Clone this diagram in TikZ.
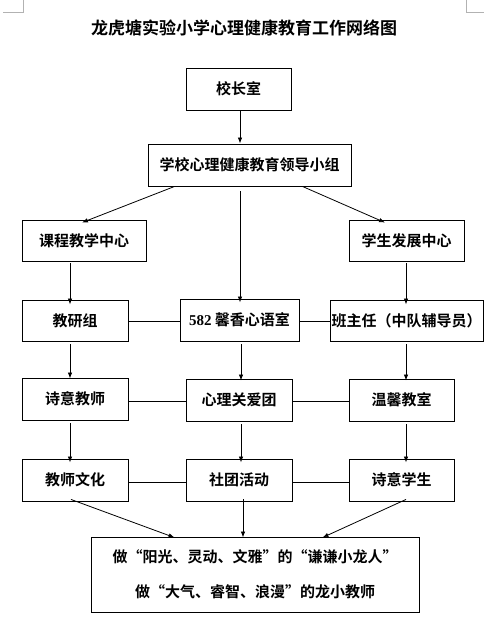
\documentclass[tikz,border=0pt]{standalone}
\usepackage{fontspec}
\newfontfamily\cjk{Noto Sans CJK SC}[BoldFont={* Bold}]
\newfontfamily\numfont{Liberation Serif}
\usetikzlibrary{arrows.meta,calc}
\begin{document}
\begin{tikzpicture}[x=1pt,y=-1pt,
  box/.style={draw,line width=0.9pt,rectangle,inner sep=0pt,font=\cjk\bfseries\fontsize{15}{18}\selectfont},
  arr/.style={line width=0.8pt,-{Latex[length=6pt,width=4.5pt]}},
  ln/.style={line width=0.8pt},
  cornermark/.style={draw=gray!60,line width=0.6pt}]
\useasboundingbox (0,0) rectangle (494,628);
\fill[white] (0,0) rectangle (494,628);
% corner marks
\draw[cornermark] (3,12) -- (23,12) -- (23,0);
\draw[cornermark] (466,0) -- (466,12) -- (484,12);
% title
\node[font=\cjk\bfseries\fontsize{17}{20}\selectfont] (title) at (244,28) {龙虎塘实验小学心理健康教育工作网络图};
% nodes
\node[box,minimum width=105pt,minimum height=42pt] (xz) at (238.5,89) {校长室};
\node[box,minimum width=203pt,minimum height=42pt] (ld) at (249.5,165) {学校心理健康教育领导小组};
\node[box,minimum width=124pt,minimum height=41pt] (kc) at (84,240.5) {课程教学中心};
\node[box,minimum width=115pt,minimum height=41pt] (xs) at (406.5,240.5) {学生发展中心};
\node[box,minimum width=106pt,minimum height=41pt] (jy) at (75,320.5) {教研组};
\node[box,minimum width=119pt,minimum height=42pt] (xx) at (239.5,320) {{\numfont\bfseries 582} 馨香心语室};
\node[box,minimum width=153pt,minimum height=41pt] (bz) at (406.5,320.5) {班主任（中队辅导员）};
\node[box,minimum width=106pt,minimum height=42pt] (sj) at (75,399) {诗意教师};
\node[box,minimum width=106pt,minimum height=42pt] (xl) at (239,400) {心理关爱团};
\node[box,minimum width=105pt,minimum height=42pt] (wx) at (401.5,400) {温馨教室};
\node[box,minimum width=106pt,minimum height=42pt] (jw) at (75,480) {教师文化};
\node[box,minimum width=106pt,minimum height=42pt] (st) at (239,480) {社团活动};
\node[box,minimum width=105pt,minimum height=42pt] (sx) at (401.5,480) {诗意学生};
\node[box,minimum width=328pt,minimum height=75pt,align=center,font=\cjk\bfseries\fontsize{15}{35}\selectfont] (bt) at (255,574.5) {做“阳光、灵动、文雅”的“谦谦小龙人”\\做“大气、睿智、浪漫”的龙小教师};
% column and row coordinates
\coordinate (cL) at (70,0);
\coordinate (cM) at (240,0);
\coordinate (cM2) at (241,0);
\coordinate (cR) at (406,0);
\coordinate (r2) at (0,321);
\coordinate (r3) at (0,401);
\coordinate (r4) at (0,482);
% arrows
\draw[arr] (xz.south -| cM) -- (ld.north -| cM);
\draw[arr] ([xshift=27pt]ld.south west) -- ([xshift=-2pt,yshift=-3pt]kc.north);
\draw[arr] ([xshift=-49pt]ld.south east) -- ([xshift=-21.5pt,yshift=-3pt]xs.north);
\draw[arr] ([yshift=-5pt]ld.south -| cM) -- ([yshift=-4pt]xx.north -| cM);
\draw[arr] ([yshift=-2pt]kc.south -| cL) -- ([yshift=-5pt]jy.north -| cL);
\draw[arr] ([yshift=-2pt]xs.south -| cR) -- ([yshift=-5pt]bz.north -| cR);
\draw[arr] ([yshift=-3pt]jy.south -| cL) -- ([yshift=-1pt]sj.north -| cL);
\draw[arr] ([yshift=-3pt]xx.south -| cM2) -- ([yshift=-2pt]xl.north -| cM2);
\draw[arr] ([yshift=-3pt]bz.south -| cR) -- ([yshift=-2pt]wx.north -| cR);
\draw[arr] ([yshift=-3pt]sj.south -| cL) -- ([yshift=-4pt]jw.north -| cL);
\draw[arr] ([yshift=-3pt]xl.south -| cM2) -- ([yshift=-4pt]st.north -| cM2);
\draw[arr] ([yshift=-3pt]wx.south -| cR) -- ([yshift=-4pt]sx.north -| cR);
% horizontal links
\draw[ln] (jy.east |- r2) -- (xx.west |- r2);
\draw[ln] (xx.east |- r2) -- (bz.west |- r2);
\draw[ln] (sj.east |- r3) -- (xl.west |- r3);
\draw[ln] (xl.east |- r3) -- (wx.west |- r3);
\draw[ln] (jw.east |- r4) -- (st.west |- r4);
\draw[ln] (st.east |- r4) -- (sx.west |- r4);
% to bottom box
\coordinate (cB) at (243,0);
\draw[arr] ([xshift=-4pt,yshift=2pt]jw.south) -- ([xshift=84pt,yshift=-1pt]bt.north west);
\draw[arr] ([yshift=2pt]st.south -| cB) -- ([yshift=-1pt]bt.north -| cB);
\draw[arr] ([xshift=4.5pt,yshift=2pt]sx.south) -- ([xshift=-97pt,yshift=-1pt]bt.north east);
\end{tikzpicture}
\end{document}
